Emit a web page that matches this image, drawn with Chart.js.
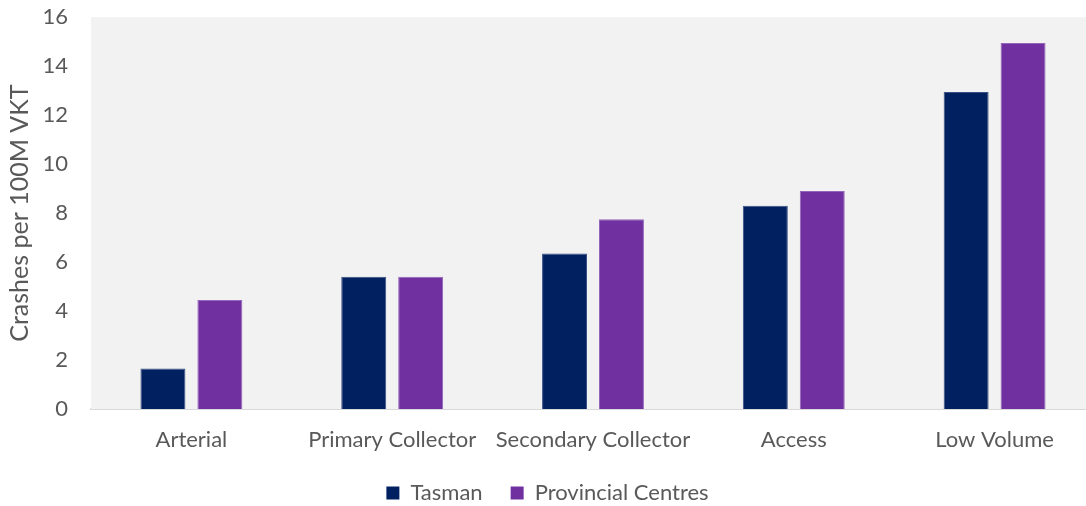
<!DOCTYPE html>
<html>
<head>
<meta charset="utf-8">
<script src="https://cdn.jsdelivr.net/npm/chart.js@4/dist/chart.umd.min.js"></script>
<style>
  html, body { margin: 0; padding: 0; background: #fff; overflow: hidden; }
  #wrap { width: 1100px; height: 525px; margin-top: -19px; }
</style>
</head>
<body>
<div id="wrap"><canvas id="chart" width="1100" height="525"></canvas></div>
<script>
// road categories and crash rates (crashes per 100M VKT)
var categories = ['Arterial', 'Primary Collector', 'Secondary Collector', 'Access', 'Low Volume'];
var tasman = [1.65, 5.4, 6.35, 8.3, 12.95];
var provincial = [4.45, 5.4, 7.75, 8.9, 14.95];
var yTicks = [0, 2, 4, 6, 8, 10, 12, 14, 16];

var plotBg = {
    id: 'plotBg',
    beforeDatasetsDraw: function(chart) {
        var a = chart.chartArea;
        var ctx = chart.ctx;
        ctx.save();
        ctx.fillStyle = '#f2f2f2';
        ctx.fillRect(a.left, a.top, a.right - a.left, a.bottom - a.top);
        ctx.restore();
    }
};

var txt = '#595959';
var font = "Lato, 'Open Sans', sans-serif";

var canvas = document.getElementById('chart');
new Chart(canvas, {
    type: 'bar',
    data: {
        labels: categories,
        datasets: [
        {
            label: 'Tasman',
            data: tasman,
            backgroundColor: '#002060',
            borderColor: '#3a4f85',
            borderWidth: 1,
            barPercentage: 0.79,
            categoryPercentage: 0.567
        },
        {
            label: 'Provincial Centres',
            data: provincial,
            backgroundColor: '#7030a0',
            borderColor: '#9565bb',
            borderWidth: 1,
            barPercentage: 0.79,
            categoryPercentage: 0.567
        }]
    },
    options: {
        responsive: false,
        animation: false,
        layout: { padding: { left: 0, right: 5, top: 0, bottom: -8 } },
        plugins: {
            legend: {
                position: 'bottom',
                labels: {
                    color: txt,
                    font: { family: font, size: 22 },
                    boxWidth: 13,
                    boxHeight: 13,
                    padding: 28,
                    generateLabels: function(chart) {
                        return chart.data.datasets.map(function(ds, i) {
                            return {
                                text: ds.label,
                                fillStyle: ds.backgroundColor,
                                strokeStyle: ds.backgroundColor,
                                lineWidth: 0,
                                fontColor: txt,
                                datasetIndex: i
                            };
                        });
                    }
                }
            },
            tooltip: { enabled: false }
        },
        scales: {
            x: {
                afterFit: function(axis) {
                    axis.height = 45;
                },
                grid: { display: false, drawTicks: false },
                border: { display: true, color: '#d9d9d9', width: 2 },
                ticks: {
                    color: txt,
                    font: { family: font, size: 22 },
                    padding: 18,
                    maxRotation: 0,
                    minRotation: 0,
                    autoSkip: false
                }
            },
            y: {
                min: 0,
                max: 16,
                afterBuildTicks: function(axis) {
                    axis.ticks = yTicks.map(function(v) { return { value: v }; });
                },
                afterFit: function(axis) {
                    axis.width = 91;
                },
                grid: { display: false, drawTicks: false },
                border: { display: false },
                ticks: { color: txt, font: { family: font, size: 22 }, padding: 23 },
                title: {
                    display: true,
                    text: 'Crashes per 100M VKT',
                    color: txt,
                    font: { family: font, size: 25 },
                    padding: { top: 5, bottom: 0 }
                }
            }
        }
    },
    plugins: [plotBg]
});
</script>
</body>
</html>
